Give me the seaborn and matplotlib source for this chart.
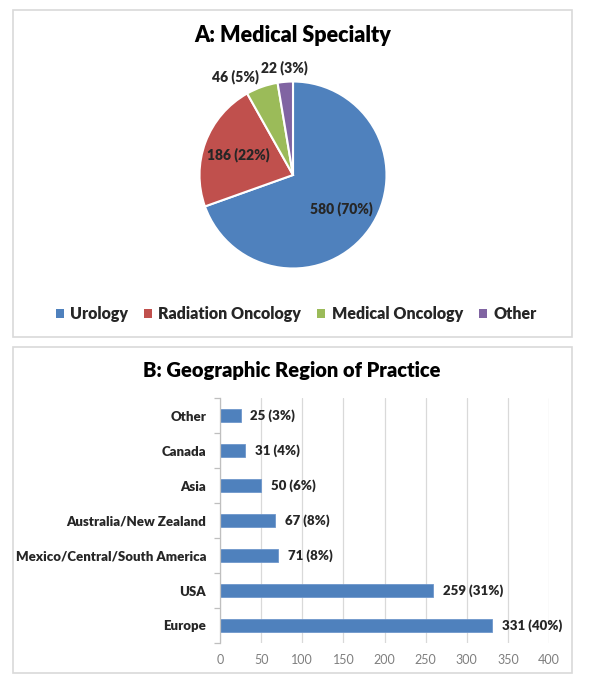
#!/usr/bin/env python3
"""Survey respondents: medical specialty (pie) and region of practice (bars)."""

import matplotlib.pyplot as plt
import numpy as np
import pandas as pd
import seaborn as sns
from matplotlib.patches import Rectangle

specialties = ["Urology", "Radiation Oncology", "Medical Oncology", "Other"]
specialty_counts = [580, 186, 46, 22]
specialty_pcts = [70, 22, 5, 3]
specialty_colors = ["#4F81BD", "#C0504D", "#9BBB59", "#8064A2"]

regions = [
    "Other",
    "Canada",
    "Asia",
    "Australia/New Zealand",
    "Mexico/Central/South America",
    "USA",
    "Europe",
]
region_counts = [25, 31, 50, 67, 71, 259, 331]
region_pcts = [3, 4, 6, 8, 8, 31, 40]
x_ticks = [0, 50, 100, 150, 200, 250, 300, 350, 400]

W, H = 600, 680


def fx(px):
    return px / W


def fy(py):
    return 1 - py / H


def main() -> None:
    sns.set_theme(style="white")
    plt.rcParams["font.family"] = ["Lato", "DejaVu Sans"]
    text_color = "#262626"

    fig = plt.figure(figsize=(6, 6.8), dpi=100)
    fig.patch.set_facecolor("white")

    # panel frames
    for top, bottom in [(10, 337), (347, 673)]:
        fig.patches.append(
            Rectangle((fx(13), fy(bottom)), fx(572) - fx(13), fy(top) - fy(bottom),
                      transform=fig.transFigure, fill=False,
                      edgecolor="#d9d9d9", linewidth=1.2)
        )

    # ---- A: pie ----
    cx, cy, r = 293, 175, 93.5
    half = r * 1.1
    ax_pie = fig.add_axes([fx(cx - half), fy(cy + half), 2 * half / W, 2 * half / H])
    wedges, _ = ax_pie.pie(
        specialty_counts,
        colors=specialty_colors,
        startangle=90,
        counterclock=False,
        wedgeprops=dict(edgecolor="white", linewidth=1.5),
    )
    ax_pie.set_xlim(-1.1, 1.1)
    ax_pie.set_ylim(-1.1, 1.1)
    ax_pie.set_aspect("equal")
    ax_pie.axis("off")

    label_dist = [0.63, 0.63, 1.11, 1.15]
    label_ha = ["center", "center", "right", "center"]
    for w, n, p, d, ha in zip(wedges, specialty_counts, specialty_pcts, label_dist, label_ha):
        ang = np.deg2rad((w.theta1 + w.theta2) / 2)
        ax_pie.text(d * np.cos(ang), d * np.sin(ang), f"{n} ({p}%)",
                    ha=ha, va="center", fontsize=10, fontweight="heavy",
                    color=text_color, clip_on=False)

    fig.text(fx(293), fy(35), "A: Medical Specialty", ha="center", va="center",
             fontsize=15.5, fontweight="heavy", color="black")

    fig.legend(
        wedges, specialties, loc="center", bbox_to_anchor=(fx(296), fy(314)),
        ncol=4, frameon=False, handlelength=0.5, handleheight=0.5,
        handletextpad=0.4, columnspacing=1.0, labelcolor=text_color,
        prop=dict(weight="heavy", size=11.5),
    )
    for h in fig.legends[0].legend_handles:
        h.set_edgecolor("none")

    # ---- B: bars ----
    df = pd.DataFrame({"region": regions, "count": region_counts})
    ax = fig.add_axes([fx(220), fy(643), fx(549) - fx(220), (643 - 398) / H])
    sns.barplot(data=df, x="count", y="region", order=regions, orient="h",
                color="#4F81BD", width=0.35, saturation=1, edgecolor="#6F97CC",
                linewidth=0.6, ax=ax)
    ax.bar_label(ax.containers[0],
                 labels=[f"{n} ({p}%)" for n, p in zip(region_counts, region_pcts)],
                 padding=7, fontsize=9.5, fontweight="heavy", color=text_color)
    ax.set_xlim(0, 400)
    ax.set_ylim(len(regions) - 0.5, -0.5)
    ax.set_xticks(x_ticks)
    ax.set_xlabel("")
    ax.set_ylabel("")
    ax.grid(axis="x", color="#d9d9d9", linewidth=0.9)
    ax.set_axisbelow(True)
    for side in ["top", "right", "bottom"]:
        ax.spines[side].set_visible(False)
    ax.spines["left"].set_color("#bfbfbf")
    ax.spines["left"].set_linewidth(0.9)
    ax.tick_params(axis="x", length=0, labelsize=9, labelcolor="#7f7f7f", pad=8)
    ax.tick_params(axis="y", which="major", length=0, pad=10, labelsize=9.5,
                   labelcolor=text_color)
    ax.set_yticks(np.arange(-0.5, len(regions), 1), minor=True)
    ax.tick_params(axis="y", which="minor", length=4, color="#bfbfbf", width=0.9,
                   left=True)
    for t in ax.get_yticklabels():
        t.set_fontweight("heavy")

    fig.text(fx(292), fy(371), "B: Geographic Region of Practice", ha="center",
             va="center", fontsize=14.5, fontweight="heavy", color="black")

    fig.savefig("out.png", dpi=100)
    plt.close(fig)


if __name__ == "__main__":
    main()
